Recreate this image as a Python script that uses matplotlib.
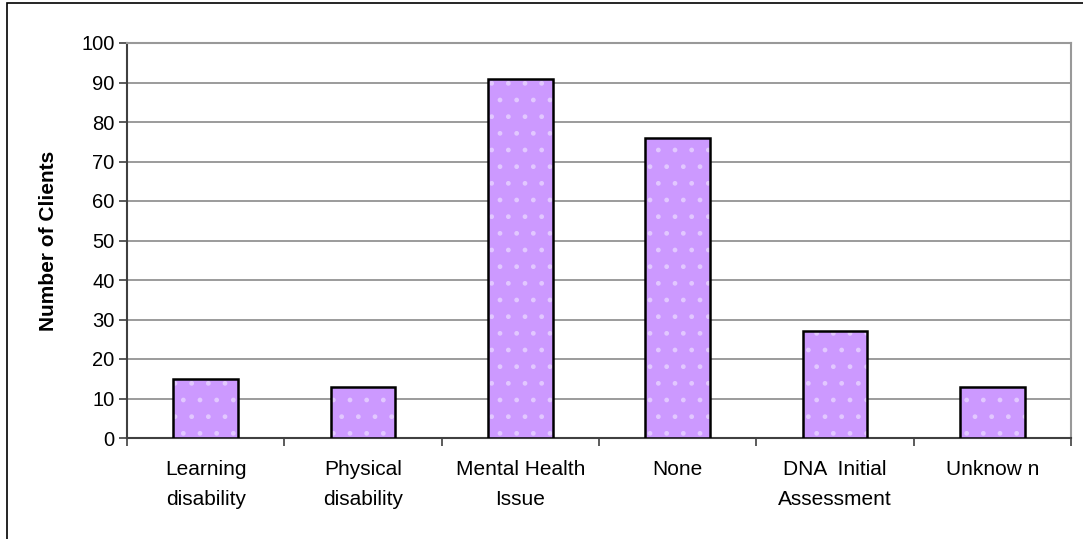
import matplotlib
matplotlib.use('Agg')
from matplotlib import pyplot as plt
from matplotlib.patches import Rectangle
import numpy as np

plt.rcParams['font.family'] = ['Liberation Sans', 'DejaVu Sans']

# client counts per disability category
categories = ['Learning\ndisability', 'Physical\ndisability', 'Mental Health\nIssue',
              'None', 'DNA  Initial\nAssessment', 'Unknow n']
clients = [15, 13, 91, 76, 27, 13]
yticks = list(range(0, 101, 10))

W, H = 1083, 539
fig = plt.figure(figsize=(W / 100, H / 100), dpi=100)
ax = fig.add_axes([127 / W, (H - 438) / H, (1071 - 127) / W, (438 - 43) / H])

x = np.arange(len(categories))
# dotted fill first, then the black outline on top
ax.bar(x, clients, width=0.41, color='#CC99FF', edgecolor='#E2C8FF',
       hatch='.', linewidth=0, zorder=3)
ax.bar(x, clients, width=0.41, fill=False, edgecolor='black',
       linewidth=1.8, zorder=4)

ax.set_xlim(-0.5, len(categories) - 0.5)
ax.set_ylim(0, 100)
ax.set_yticks(yticks)
ax.yaxis.grid(True, color='#808080', linewidth=1.1, zorder=0)
ax.set_axisbelow(True)

ax.set_xticks(x)
ax.set_xticklabels(categories, fontsize=15, linespacing=1.75, va='top')
ax.set_xticks(np.arange(-0.5, len(categories)), minor=True)
ax.tick_params(axis='x', which='major', length=0, pad=16)
ax.tick_params(axis='x', which='minor', length=6, width=1.2, color='#404040')
ax.tick_params(axis='y', length=6, width=1.2, color='#404040',
               labelsize=14.5, pad=3)

for side in ['left', 'bottom']:
    ax.spines[side].set_color('#404040')
    ax.spines[side].set_linewidth(1.5)
for side in ['top', 'right']:
    ax.spines[side].set_color('#999999')
    ax.spines[side].set_linewidth(1.5)

ax.set_ylabel('Number of Clients', fontsize=15, fontweight='bold')
ax.yaxis.set_label_coords(-0.073, 0.5)

# outer chart border
fig.patches.append(Rectangle((7 / W, -0.1), 1.2, 1 - 3 / H + 0.1,
                             transform=fig.transFigure, fill=False,
                             edgecolor='black', linewidth=1.2))

fig.savefig('out.png', dpi=100)
